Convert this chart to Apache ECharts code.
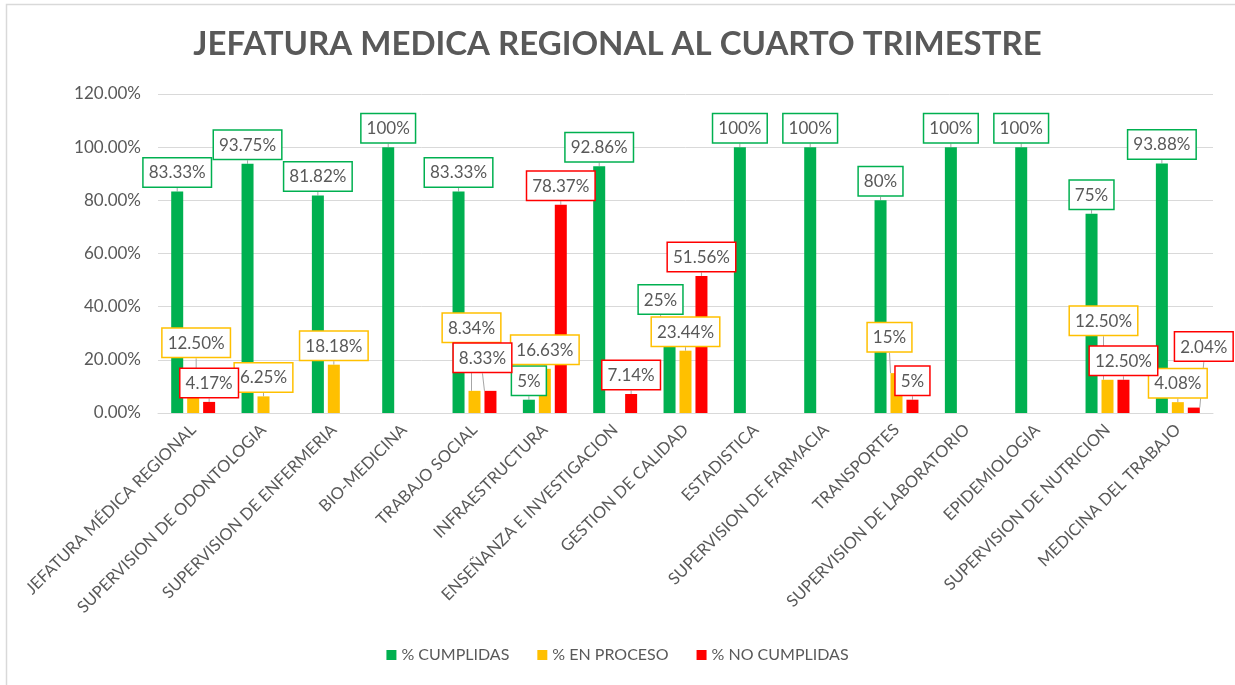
<!DOCTYPE html>
<html>
<head>
<meta charset="utf-8">
<title>Jefatura Medica Regional</title>
<script src="https://cdn.jsdelivr.net/npm/echarts@6/dist/echarts.min.js"></script>
<style>
  html, body { margin: 0; padding: 0; background: #fff; }
  #chart { width: 1235px; height: 685px; }
</style>
</head>
<body>
<div id="chart"></div>
<script>
const categories = [
  "JEFATURA MÉDICA REGIONAL", "SUPERVISION DE ODONTOLOGIA", "SUPERVISION DE ENFERMERIA",
  "BIO-MEDICINA", "TRABAJO SOCIAL", "INFRAESTRUCTURA", "ENSEÑANZA E INVESTIGACION",
  "GESTION DE CALIDAD", "ESTADISTICA", "SUPERVISION DE FARMACIA", "TRANSPORTES",
  "SUPERVISION DE LABORATORIO", "EPIDEMIOLOGIA", "SUPERVISION DE NUTRICION", "MEDICINA DEL TRABAJO"
];
const cumplidas = [83.33, 93.75, 81.82, 100, 83.33, 5, 92.86, 25, 100, 100, 80, 100, 100, 75, 93.88];
const enProceso = [12.5, 6.25, 18.18, null, 8.34, 16.63, null, 23.44, null, null, 15, null, null, 12.5, 4.08];
const noCumplidas = [4.17, null, null, null, 8.33, 78.37, 7.14, 51.56, null, null, 5, null, null, 12.5, 2.04];
const yTicks = [0, 20, 40, 60, 80, 100, 120];

// labels moved by hand in the original sheet: [series][index] = [dx, dy]
const labelShift = [
  { 7: [-9, -28] },
  { 0: [3, -18], 4: [-3, -44], 10: [-7, -17], 13: [-4, -40] },
  { 4: [-8, -14], 14: [10, -42] }
];

const font = "Lato, 'Liberation Sans', sans-serif";
const grey = "#595959";
const colors = ["#00B050", "#FFC000", "#FF0000"];

const fmt = (v) => Number.isInteger(v) ? v + "%" : v.toFixed(2) + "%";

const makeSeries = (name, data, i) => ({
  name: name,
  type: "bar",
  data: data,
  barWidth: 12,
  barGap: "33%",
  itemStyle: { color: colors[i] },
  label: {
    show: true,
    position: "top",
    distance: 5,
    formatter: (p) => fmt(p.value),
    fontFamily: font,
    fontSize: 17,
    color: grey,
    backgroundColor: "#fff",
    borderColor: colors[i],
    borderWidth: 1.5,
    padding: [6, 5, 5, 5]
  },
  labelLine: { show: true, lineStyle: { color: "#A6A6A6", width: 1 } },
  labelLayout: (p) => {
    const o = labelShift[i][p.dataIndex];
    return o ? { dx: o[0], dy: o[1] } : {};
  }
});

const chart = echarts.init(document.querySelector("#chart"));
chart.setOption({
  backgroundColor: "#fff",
  animation: false,
  textStyle: { fontFamily: font },
  title: {
    text: "JEFATURA MEDICA REGIONAL AL CUARTO TRIMESTRE",
    left: "center",
    top: 23,
    textStyle: { fontFamily: font, fontSize: 33, fontWeight: "bold", color: grey }
  },
  graphic: [{
    type: "rect",
    shape: { x: 6.5, y: 4.5, width: 1300, height: 800 },
    style: { fill: "none", stroke: "#D9D9D9", lineWidth: 1.5 },
    silent: true
  }],
  legend: {
    bottom: 17,
    left: "center",
    itemWidth: 10,
    itemHeight: 10,
    itemGap: 28,
    icon: "rect",
    textStyle: { fontFamily: font, fontSize: 16, color: grey }
  },
  grid: { left: 158, right: 22, top: 94, bottom: 272 },
  xAxis: {
    type: "category",
    data: categories,
    axisLine: { lineStyle: { color: "#D9D9D9" } },
    axisTick: { show: false },
    axisLabel: { rotate: 45, interval: 0, margin: 14, fontFamily: font, fontSize: 16.5, color: grey }
  },
  yAxis: {
    type: "value",
    min: yTicks[0],
    max: yTicks[yTicks.length - 1],
    interval: 20,
    axisLine: { show: false },
    axisTick: { show: false },
    splitLine: { lineStyle: { color: "#D9D9D9" } },
    axisLabel: { margin: 17, fontFamily: font, fontSize: 17, color: grey, formatter: (v) => v.toFixed(2) + "%" }
  },
  series: [
    makeSeries("% CUMPLIDAS", cumplidas, 0),
    makeSeries("% EN PROCESO", enProceso, 1),
    makeSeries("% NO CUMPLIDAS", noCumplidas, 2)
  ]
});
</script>
</body>
</html>
